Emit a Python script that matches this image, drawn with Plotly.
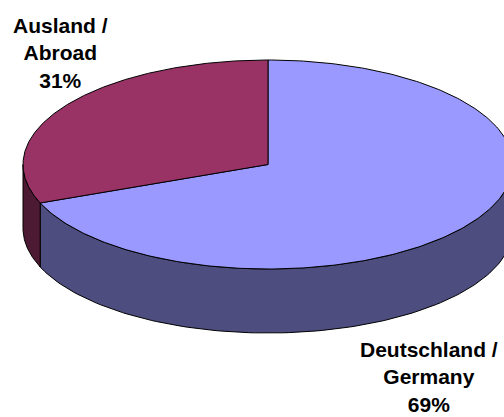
import numpy as np
import plotly.graph_objects as go

# ---- data ----
labels = ["Deutschland /<br>Germany<br>69%", "Ausland /<br>Abroad<br>31%"]
values = [69, 31]
top_colors = ["#9999FF", "#993366"]
side_colors = ["#4D4D80", "#4D1A33"]

# ---- geometry of the 3D pie (pixel space) ----
W, H = 504, 417
cx, cy = 268, 164.5
rx, ry = 245, 104.5
depth = 64

total = sum(values)
fracs = [v / total for v in values]

# slices start at 12 o'clock and go clockwise
start = 90.0
spans = []
a = start
for f in fracs:
    a_end = a - f * 360.0
    spans.append((a_end, a))  # (low, high) in math degrees
    a = a_end


def pt(t_deg, dy=0.0):
    t = np.radians(t_deg)
    return cx + rx * np.cos(t), cy - ry * np.sin(t) + dy


fig = go.Figure()

# side walls (only front half visible: angles 180..360)
for (lo, hi), sc in zip(spans, side_colors):
    segs = []
    for shift in (0, 360, -360):
        l, h = lo + shift, hi + shift
        s, e = max(l, 180), min(h, 360)
        if e > s:
            segs.append((s, e))
    for s, e in segs:
        ts = np.linspace(s, e, 120)
        xs_top, ys_top = pt(ts)
        xs_bot, ys_bot = pt(ts[::-1], depth)
        xs = np.concatenate([xs_top, xs_bot, xs_top[:1]])
        ys = np.concatenate([ys_top, ys_bot, ys_top[:1]])
        fig.add_trace(go.Scatter(x=xs, y=ys, mode="lines", fill="toself",
                                 fillcolor=sc, line=dict(color="black", width=1),
                                 hoverinfo="skip", showlegend=False))

# top faces
for (lo, hi), tc in zip(spans, top_colors):
    ts = np.linspace(lo, hi, 300)
    xa, ya = pt(ts)
    xs = np.concatenate([[cx], xa, [cx]])
    ys = np.concatenate([[cy], ya, [cy]])
    fig.add_trace(go.Scatter(x=xs, y=ys, mode="lines", fill="toself",
                             fillcolor=tc, line=dict(color="black", width=1),
                             hoverinfo="skip", showlegend=False))

# labels
label_pos = [(429, 377), (60, 53)]
for lab, (lx, ly) in zip(labels, label_pos):
    fig.add_annotation(x=lx, y=ly, text="<b>" + lab + "</b>", showarrow=False,
                       xanchor="center", yanchor="middle", align="center",
                       font=dict(family="Liberation Sans, Arial", size=21, color="black"))

fig.update_layout(
    width=W, height=H,
    margin=dict(l=0, r=0, t=0, b=0),
    paper_bgcolor="white", plot_bgcolor="white",
    xaxis=dict(range=[0, W], visible=False, fixedrange=True),
    yaxis=dict(range=[H, 0], visible=False, fixedrange=True),
)

fig.write_html("out.html", config={"displayModeBar": False},
               post_script="document.body.style.margin='0';document.body.style.overflow='hidden';")
